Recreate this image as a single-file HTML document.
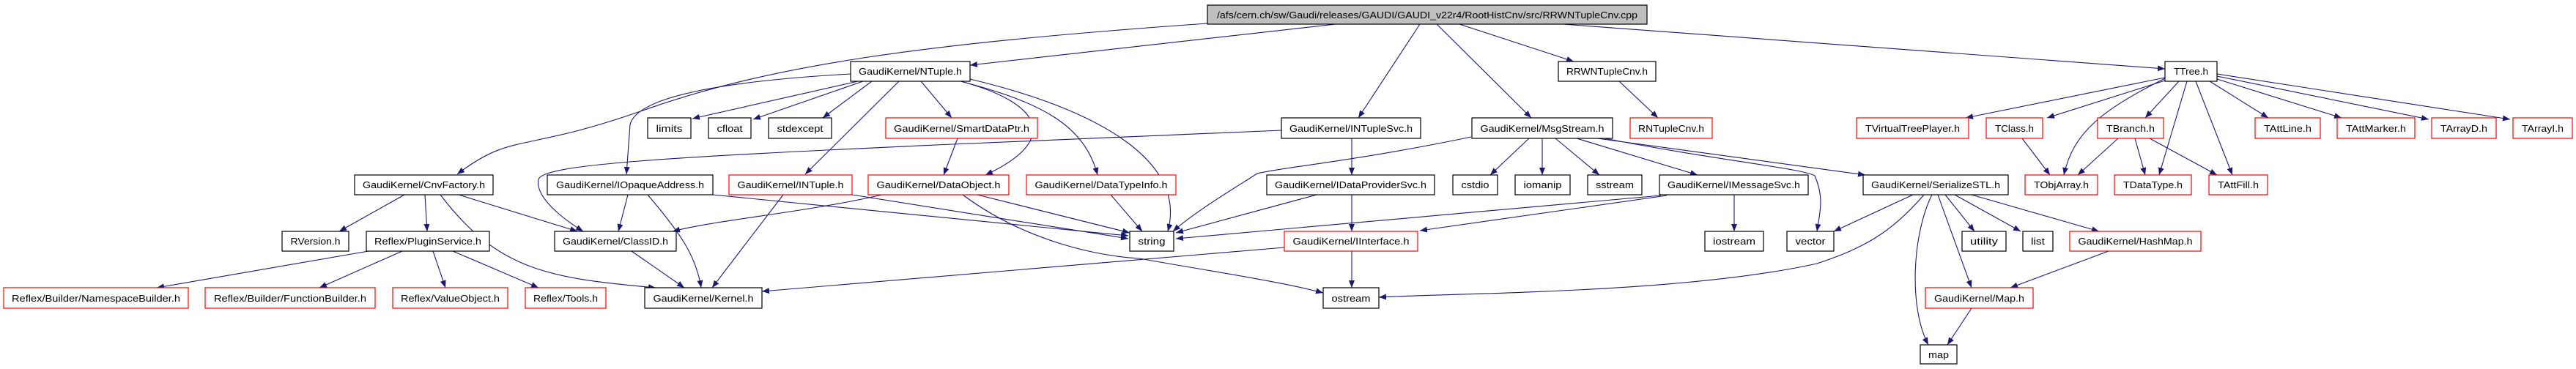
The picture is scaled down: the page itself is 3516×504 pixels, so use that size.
<!DOCTYPE html>
<html><head><meta charset="utf-8"><style>
html,body{margin:0;padding:0;background:#fff;}
svg{display:block;}
text{font-family:"Liberation Sans",sans-serif;font-size:13px;fill:#000;}
.e{fill:none;stroke:#191970;stroke-width:1.1;marker-end:url(#a);}
.b{fill:#fff;stroke:#000;stroke-width:1.2;}
.r{fill:#fff;stroke:#ff0000;stroke-width:1.2;}
</style></head><body>
<svg width="3516" height="504" viewBox="0 0 3516 504" xmlns="http://www.w3.org/2000/svg">
<defs><marker id="a" markerUnits="userSpaceOnUse" markerWidth="11" markerHeight="9" refX="10" refY="4" orient="auto"><path d="M0,0 L10,4 L0,8 z" fill="#191970"/></marker></defs>
<g>
<!-- root edges -->
<path class="e" d="M1823,33 L1324,89"/>
<path class="e" d="M1648,32 C1250,60 1050,90 880,150 S700,180 624,238"/>
<path class="e" d="M1938,33 L1854,161"/>
<path class="e" d="M1961,33 L2090,161"/>
<path class="e" d="M1992,33 L2148,84"/>
<path class="e" d="M2133,33 L2955,94"/>
<!-- NTuple -->
<path class="e" d="M1161,101 C1000,110 870,130 860,170 L855,238"/>
<path class="e" d="M1171,111 L945,162"/>
<path class="e" d="M1178,111 L1028,163"/>
<path class="e" d="M1190,111 L1123,161"/>
<path class="e" d="M1227,111 L1099,238"/>
<path class="e" d="M1257,111 L1299,161"/>
<path class="e" d="M1311,111 C1420,140 1450,190 1345,239"/>
<path class="e" d="M1315,112 C1420,140 1480,170 1498,239"/>
<path class="e" d="M1324,108 C1500,150 1620,220 1594,316"/>
<path class="e" d="M1307,189 L1288,239"/>
<!-- DataObject -->
<path class="e" d="M1204,266 C1100,290 980,300 918,316"/>
<path class="e" d="M1334,266 L1542,318"/>
<path class="e" d="M1314,266 C1400,330 1500,350 1555,353 C1650,370 1750,385 1806,400"/>
<path class="e" d="M1516,266 L1559,316"/>
<!-- INTuple / IOpaque -->
<path class="e" d="M1069,266 L972,393"/>
<path class="e" d="M1163,266 L1540,326"/>
<path class="e" d="M973,266 L1540,322"/>
<path class="e" d="M857,266 L844,316"/>
<path class="e" d="M884,266 C930,320 950,350 957,393"/>
<!-- INTupleSvc -->
<path class="e" d="M1749,178 L1300,197 C900,215 740,225 735,245 C730,270 770,300 796,316"/>
<path class="e" d="M1845,189 L1845,239"/>
<path class="e" d="M1797,266 L1605,318"/>
<path class="e" d="M1845,266 L1845,316"/>
<path class="e" d="M1845,343 L1845,393"/>
<path class="e" d="M1753,338 L1040,398"/>
<!-- MsgStream -->
<path class="e" d="M2008,187 C1850,220 1740,230 1716,237 C1680,260 1630,290 1601,316"/>
<path class="e" d="M2087,189 L2034,239"/>
<path class="e" d="M2105,189 L2105,239"/>
<path class="e" d="M2123,189 L2183,239"/>
<path class="e" d="M2152,189 L2317,239"/>
<path class="e" d="M2180,189 L2546,239"/>
<path class="e" d="M2190,189 C2350,220 2460,230 2477,240 C2490,270 2484,290 2480,316"/>
<!-- IMessageSvc -->
<path class="e" d="M2267,267 L1605,326"/>
<path class="e" d="M2275,267 L1938,315"/>
<path class="e" d="M2367,266 L2367,316"/>
<!-- SerializeSTL -->
<path class="e" d="M2611,266 L2503,316"/>
<path class="e" d="M2626,266 C2580,320 2540,340 2480,360 C2300,400 2000,400 1882,406"/>
<path class="e" d="M2637,266 C2610,320 2605,420 2632,471"/>
<path class="e" d="M2645,266 L2691,393"/>
<path class="e" d="M2655,266 L2695,316"/>
<path class="e" d="M2668,266 L2758,316"/>
<path class="e" d="M2691,266 L2865,316"/>
<path class="e" d="M2878,343 L2744,393"/>
<path class="e" d="M2691,421 L2658,471"/>
<!-- CnvFactory -->
<path class="e" d="M552,266 L463,316"/>
<path class="e" d="M580,266 L583,316"/>
<path class="e" d="M626,266 L788,316"/>
<path class="e" d="M601,266 C680,370 750,380 895,393"/>
<path class="e" d="M503,343 L214,393"/>
<path class="e" d="M549,343 L436,393"/>
<path class="e" d="M591,343 L608,393"/>
<path class="e" d="M618,343 L735,393"/>
<path class="e" d="M862,343 L934,393"/>
<path class="e" d="M2210,111 L2263,161"/>
<!-- TTree -->
<path class="e" d="M2955,106 L2683,161"/>
<path class="e" d="M2955,110 L2794,161"/>
<path class="e" d="M2955,107 C2870,150 2830,180 2817,239"/>
<path class="e" d="M2974,111 L2928,161"/>
<path class="e" d="M2985,111 L2947,239"/>
<path class="e" d="M2997,111 L3047,239"/>
<path class="e" d="M3016,111 L3096,161"/>
<path class="e" d="M3026,108 L3196,161"/>
<path class="e" d="M3026,104 L3315,163"/>
<path class="e" d="M3026,101 L3426,163"/>
<path class="e" d="M2760,189 L2798,239"/>
<path class="e" d="M2891,189 L2836,239"/>
<path class="e" d="M2914,189 L2928,239"/>
<path class="e" d="M2934,189 L3026,239"/>
</g>
<g>
<rect x="1648" y="7" width="600" height="26" fill="#bfbfbf" stroke="#000" stroke-width="1.2"/>
<text x="1948" y="25" text-anchor="middle" textLength="574" lengthAdjust="spacingAndGlyphs">/afs/cern.ch/sw/Gaudi/releases/GAUDI/GAUDI_v22r4/RootHistCnv/src/RRWNTupleCnv.cpp</text>
</g>
<g id="boxes"></g>
<!-- row2 -->
<rect class="b" x="1161" y="84" width="163" height="27"/><text x="1242.5" y="102" text-anchor="middle" textLength="141" lengthAdjust="spacingAndGlyphs">GaudiKernel/NTuple.h</text>
<rect class="b" x="2127" y="84" width="133" height="27"/><text x="2193.5" y="102" text-anchor="middle" textLength="111" lengthAdjust="spacingAndGlyphs">RRWNTupleCnv.h</text>
<rect class="b" x="2955" y="84" width="71" height="27"/><text x="2990.5" y="102" text-anchor="middle" textLength="47" lengthAdjust="spacingAndGlyphs">TTree.h</text>
<!-- row3 -->
<rect class="b" x="884" y="161" width="59" height="28"/><text x="913.5" y="180" text-anchor="middle" textLength="36" lengthAdjust="spacingAndGlyphs">limits</text>
<rect class="b" x="967" y="161" width="58" height="28"/><text x="996" y="180" text-anchor="middle" textLength="35" lengthAdjust="spacingAndGlyphs">cfloat</text>
<rect class="b" x="1049" y="161" width="86" height="28"/><text x="1092" y="180" text-anchor="middle" textLength="63" lengthAdjust="spacingAndGlyphs">stdexcept</text>
<rect class="r" x="1209" y="161" width="207" height="28"/><text x="1312.5" y="180" text-anchor="middle" textLength="185" lengthAdjust="spacingAndGlyphs">GaudiKernel/SmartDataPtr.h</text>
<rect class="b" x="1749" y="161" width="190" height="28"/><text x="1844" y="180" text-anchor="middle" textLength="168" lengthAdjust="spacingAndGlyphs">GaudiKernel/INTupleSvc.h</text>
<rect class="b" x="2009" y="161" width="192" height="28"/><text x="2105" y="180" text-anchor="middle" textLength="169" lengthAdjust="spacingAndGlyphs">GaudiKernel/MsgStream.h</text>
<rect class="r" x="2225" y="161" width="112" height="28"/><text x="2281" y="180" text-anchor="middle" textLength="90" lengthAdjust="spacingAndGlyphs">RNTupleCnv.h</text>
<rect class="r" x="2534" y="161" width="153" height="28"/><text x="2610.5" y="180" text-anchor="middle" textLength="129" lengthAdjust="spacingAndGlyphs">TVirtualTreePlayer.h</text>
<rect class="r" x="2711" y="161" width="77" height="28"/><text x="2749.5" y="180" text-anchor="middle" textLength="53" lengthAdjust="spacingAndGlyphs">TClass.h</text>
<rect class="r" x="2863" y="161" width="90" height="28"/><text x="2908" y="180" text-anchor="middle" textLength="66" lengthAdjust="spacingAndGlyphs">TBranch.h</text>
<rect class="r" x="3078" y="161" width="89" height="28"/><text x="3122.5" y="180" text-anchor="middle" textLength="65" lengthAdjust="spacingAndGlyphs">TAttLine.h</text>
<rect class="r" x="3190" y="161" width="106" height="28"/><text x="3243" y="180" text-anchor="middle" textLength="82" lengthAdjust="spacingAndGlyphs">TAttMarker.h</text>
<rect class="r" x="3319" y="161" width="88" height="28"/><text x="3363" y="180" text-anchor="middle" textLength="64" lengthAdjust="spacingAndGlyphs">TArrayD.h</text>
<rect class="r" x="3430" y="161" width="81" height="28"/><text x="3470.5" y="180" text-anchor="middle" textLength="57" lengthAdjust="spacingAndGlyphs">TArrayI.h</text>
<!-- row4 -->
<rect class="b" x="484" y="239" width="189" height="27"/><text x="578.5" y="257" text-anchor="middle" textLength="167" lengthAdjust="spacingAndGlyphs">GaudiKernel/CnvFactory.h</text>
<rect class="b" x="747" y="239" width="226" height="27"/><text x="860" y="257" text-anchor="middle" textLength="202" lengthAdjust="spacingAndGlyphs">GaudiKernel/IOpaqueAddress.h</text>
<rect class="r" x="995" y="239" width="168" height="27"/><text x="1079" y="257" text-anchor="middle" textLength="145" lengthAdjust="spacingAndGlyphs">GaudiKernel/INTuple.h</text>
<rect class="r" x="1185" y="239" width="192" height="27"/><text x="1281" y="257" text-anchor="middle" textLength="169" lengthAdjust="spacingAndGlyphs">GaudiKernel/DataObject.h</text>
<rect class="r" x="1401" y="239" width="204" height="27"/><text x="1503" y="257" text-anchor="middle" textLength="181" lengthAdjust="spacingAndGlyphs">GaudiKernel/DataTypeInfo.h</text>
<rect class="b" x="1729" y="239" width="229" height="27"/><text x="1843.5" y="257" text-anchor="middle" textLength="207" lengthAdjust="spacingAndGlyphs">GaudiKernel/IDataProviderSvc.h</text>
<rect class="b" x="1983" y="239" width="61" height="27"/><text x="2013.5" y="257" text-anchor="middle" textLength="38" lengthAdjust="spacingAndGlyphs">cstdio</text>
<rect class="b" x="2068" y="239" width="75" height="27"/><text x="2105.5" y="257" text-anchor="middle" textLength="52" lengthAdjust="spacingAndGlyphs">iomanip</text>
<rect class="b" x="2167" y="239" width="74" height="27"/><text x="2204" y="257" text-anchor="middle" textLength="52" lengthAdjust="spacingAndGlyphs">sstream</text>
<rect class="b" x="2265" y="239" width="203" height="27"/><text x="2366.5" y="257" text-anchor="middle" textLength="181" lengthAdjust="spacingAndGlyphs">GaudiKernel/IMessageSvc.h</text>
<rect class="b" x="2543" y="239" width="198" height="27"/><text x="2642" y="257" text-anchor="middle" textLength="176" lengthAdjust="spacingAndGlyphs">GaudiKernel/SerializeSTL.h</text>
<rect class="r" x="2764" y="239" width="99" height="27"/><text x="2813.5" y="257" text-anchor="middle" textLength="75" lengthAdjust="spacingAndGlyphs">TObjArray.h</text>
<rect class="r" x="2886" y="239" width="105" height="27"/><text x="2938.5" y="257" text-anchor="middle" textLength="81" lengthAdjust="spacingAndGlyphs">TDataType.h</text>
<rect class="r" x="3015" y="239" width="80" height="27"/><text x="3055" y="257" text-anchor="middle" textLength="56" lengthAdjust="spacingAndGlyphs">TAttFill.h</text>
<!-- row5 -->
<rect class="b" x="385" y="316" width="91" height="27"/><text x="430.5" y="334" text-anchor="middle" textLength="68" lengthAdjust="spacingAndGlyphs">RVersion.h</text>
<rect class="b" x="500" y="316" width="168" height="27"/><text x="584" y="334" text-anchor="middle" textLength="146" lengthAdjust="spacingAndGlyphs">Reflex/PluginService.h</text>
<rect class="b" x="757" y="316" width="166" height="27"/><text x="840" y="334" text-anchor="middle" textLength="144" lengthAdjust="spacingAndGlyphs">GaudiKernel/ClassID.h</text>
<rect class="b" x="1542" y="316" width="60" height="27"/><text x="1572" y="334" text-anchor="middle" textLength="37" lengthAdjust="spacingAndGlyphs">string</text>
<rect class="r" x="1753" y="316" width="182" height="27"/><text x="1844" y="334" text-anchor="middle" textLength="159" lengthAdjust="spacingAndGlyphs">GaudiKernel/IInterface.h</text>
<rect class="b" x="2327" y="316" width="80" height="27"/><text x="2367" y="334" text-anchor="middle" textLength="58" lengthAdjust="spacingAndGlyphs">iostream</text>
<rect class="b" x="2439" y="316" width="64" height="27"/><text x="2471" y="334" text-anchor="middle" textLength="41" lengthAdjust="spacingAndGlyphs">vector</text>
<rect class="b" x="2678" y="316" width="60" height="27"/><text x="2708" y="334" text-anchor="middle" textLength="38" lengthAdjust="spacingAndGlyphs">utility</text>
<rect class="b" x="2761" y="316" width="41" height="27"/><text x="2781.5" y="334" text-anchor="middle" textLength="19" lengthAdjust="spacingAndGlyphs">list</text>
<rect class="r" x="2825" y="316" width="179" height="27"/><text x="2914.5" y="334" text-anchor="middle" textLength="156" lengthAdjust="spacingAndGlyphs">GaudiKernel/HashMap.h</text>
<!-- row6 -->
<rect class="r" x="5" y="393" width="252" height="28"/><text x="131" y="412" text-anchor="middle" textLength="230" lengthAdjust="spacingAndGlyphs">Reflex/Builder/NamespaceBuilder.h</text>
<rect class="r" x="280" y="393" width="232" height="28"/><text x="396" y="412" text-anchor="middle" textLength="208" lengthAdjust="spacingAndGlyphs">Reflex/Builder/FunctionBuilder.h</text>
<rect class="r" x="536" y="393" width="157" height="28"/><text x="614.5" y="412" text-anchor="middle" textLength="135" lengthAdjust="spacingAndGlyphs">Reflex/ValueObject.h</text>
<rect class="r" x="717" y="393" width="110" height="28"/><text x="772" y="412" text-anchor="middle" textLength="88" lengthAdjust="spacingAndGlyphs">Reflex/Tools.h</text>
<rect class="b" x="880" y="393" width="160" height="28"/><text x="960" y="412" text-anchor="middle" textLength="137" lengthAdjust="spacingAndGlyphs">GaudiKernel/Kernel.h</text>
<rect class="b" x="1806" y="393" width="76" height="28"/><text x="1844" y="412" text-anchor="middle" textLength="53" lengthAdjust="spacingAndGlyphs">ostream</text>
<rect class="r" x="2628" y="393" width="147" height="28"/><text x="2701.5" y="412" text-anchor="middle" textLength="123" lengthAdjust="spacingAndGlyphs">GaudiKernel/Map.h</text>
<!-- row7 -->
<rect class="b" x="2621" y="471" width="50" height="26"/><text x="2646" y="489" text-anchor="middle" textLength="28" lengthAdjust="spacingAndGlyphs">map</text>
</svg>
</body></html>
